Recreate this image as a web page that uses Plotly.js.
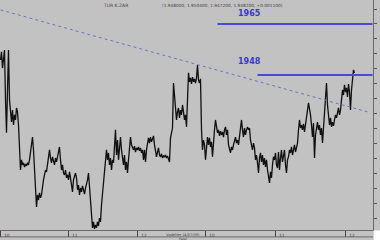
<!DOCTYPE html>
<html>
<head>
<meta charset="utf-8">
<script src="https://cdn.plot.ly/plotly-3.0.1.min.js"></script>
<style>html,body{margin:0;padding:0;background:#c2c2c2;}#chart{width:380px;height:240px;}</style>
</head>
<body>
<div id="chart"></div>
<script>
// daily closes (TUR K.ZAR)
const closes = [
1.9530,1.9557,1.9503,1.9537,1.9563,1.9397,1.9287,1.9430,1.9563,1.9397,
1.9357,1.9323,1.9363,1.9313,1.9347,1.9330,1.9370,1.9357,1.9313,1.9230,
1.9163,1.9197,1.9180,1.9187,1.9173,1.9183,1.9177,1.9187,1.9180,1.9197,
1.9230,1.9263,1.9273,1.9230,1.9163,1.9097,1.9040,1.9080,1.9063,1.9087,
1.9070,1.9080,1.9113,1.9130,1.9147,1.9163,1.9157,1.9180,1.9197,1.9230,
1.9203,1.9187,1.9207,1.9197,1.9180,1.9203,1.9190,1.9207,1.9223,1.9240,
1.9197,1.9163,1.9180,1.9153,1.9147,1.9163,1.9137,1.9147,1.9130,1.9157,
1.9137,1.9113,1.9090,1.9130,1.9147,1.9153,1.9137,1.9097,1.9113,1.9080,
1.9103,1.9090,1.9110,1.9097,1.9083,1.9103,1.9113,1.9130,1.9153,1.9097,
1.9040,1.9003,1.8970,1.8990,1.8967,1.8980,1.8970,1.8990,1.8977,1.9003,
1.8990,1.9047,1.9080,1.9120,1.9147,1.9180,1.9230,1.9197,1.9220,1.9180,
1.9203,1.9163,1.9197,1.9187,1.9230,1.9297,1.9213,1.9263,1.9197,1.9237,
1.9273,1.9230,1.9203,1.9180,1.9213,1.9163,1.9190,1.9153,1.9197,1.9230,
1.9273,1.9247,1.9240,1.9230,1.9243,1.9223,1.9237,1.9230,1.9240,1.9227,
1.9237,1.9220,1.9230,1.9197,1.9230,1.9190,1.9230,1.9247,1.9270,1.9253,
1.9273,1.9257,1.9270,1.9277,1.9247,1.9230,1.9207,1.9223,1.9237,1.9213,
1.9207,1.9217,1.9203,1.9210,1.9207,1.9213,1.9203,1.9210,1.9197,1.9190,
1.9270,1.9290,1.9303,1.9453,1.9413,1.9363,1.9330,1.9357,1.9370,1.9337,
1.9363,1.9347,1.9380,1.9357,1.9330,1.9347,1.9307,1.9397,1.9487,1.9457,
1.9470,1.9450,1.9473,1.9457,1.9467,1.9453,1.9470,1.9513,1.9463,1.9453,
1.9467,1.9297,1.9230,1.9263,1.9247,1.9197,1.9257,1.9273,1.9247,1.9270,
1.9240,1.9257,1.9207,1.9263,1.9297,1.9330,1.9303,1.9287,1.9297,1.9277,
1.9293,1.9280,1.9290,1.9273,1.9297,1.9307,1.9280,1.9297,1.9247,1.9230,
1.9220,1.9240,1.9230,1.9247,1.9263,1.9273,1.9253,1.9263,1.9247,1.9270,
1.9307,1.9330,1.9297,1.9273,1.9303,1.9280,1.9297,1.9307,1.9297,1.9303,
1.9263,1.9247,1.9230,1.9253,1.9237,1.9197,1.9213,1.9187,1.9153,1.9203,
1.9220,1.9190,1.9213,1.9180,1.9203,1.9173,1.9197,1.9163,1.9147,1.9120,
1.9157,1.9137,1.9180,1.9207,1.9197,1.9220,1.9180,1.9170,1.9223,1.9163,
1.9203,1.9230,1.9190,1.9213,1.9230,1.9180,1.9153,1.9197,1.9207,1.9230,
1.9220,1.9240,1.9213,1.9230,1.9247,1.9223,1.9237,1.9253,1.9297,1.9330,
1.9303,1.9313,1.9297,1.9317,1.9290,1.9310,1.9330,1.9363,1.9387,1.9370,
1.9347,1.9313,1.9273,1.9320,1.9203,1.9280,1.9297,1.9323,1.9297,1.9313,
1.9280,1.9303,1.9253,1.9313,1.9363,1.9397,1.9453,1.9380,1.9330,1.9313,
1.9337,1.9307,1.9323,1.9310,1.9330,1.9347,1.9337,1.9357,1.9370,1.9347,
1.9363,1.9397,1.9430,1.9413,1.9447,1.9423,1.9437,1.9407,1.9450,1.9423,
1.9363,1.9430,1.9463,1.9497,1.9487
];
const days = closes.map((_, i) => i);

// descending trend line (start/end days and prices)
const trendDays = [0, 367];
const trendPrices = [1.9697, 1.9357];

// resistance levels
const levelNames = ["1965", "1948"];
const levelPrices = [1.965, 1.948];
const levelStartDays = [217, 257];
const levelEndDay = 372;

// bottom axis labels
const tickDays = [0, 68, 137, 205, 275, 345];
const tickLabels = ["10", "11", "12", "10", "11", "12"];

const headerName = "TUR K.ZAR";
const headerOHLC = "(1.948000, 1.950400, 1.947200, 1.948200, +0.001100)";

const traces = [
  {x: days, y: closes, type: "scatter", mode: "lines",
   line: {color: "#111111", width: 1.3}, hoverinfo: "skip"},
  {x: trendDays, y: trendPrices, type: "scatter", mode: "lines",
   line: {color: "#7474c4", width: 1, dash: "dot"}, hoverinfo: "skip"}
];
levelPrices.forEach((p, i) => {
  traces.push({x: [levelStartDays[i], levelEndDay], y: [p, p], type: "scatter", mode: "lines",
    line: {color: "#4a4ad6", width: 2}, hoverinfo: "skip"});
});

const annotations = [
  {xref: "paper", yref: "paper", x: 0.27, y: 1, xanchor: "left", yanchor: "top", yshift: -1,
   text: headerName, showarrow: false, font: {size: 4.5, color: "#444", family: "DejaVu Sans"}},
  {xref: "paper", yref: "paper", x: 0.43, y: 1, xanchor: "left", yanchor: "top", yshift: -1,
   text: headerOHLC, showarrow: false, font: {size: 4.3, color: "#444", family: "DejaVu Sans"}},
  {xref: "x", yref: "paper", x: 163, y: 0, xanchor: "left", yanchor: "top", yshift: -0.5,
   text: "Vadeliler (4/07/09)", showarrow: false, font: {size: 3.6, color: "#444", family: "DejaVu Sans"}},
  {xref: "x", yref: "paper", x: 176, y: 0, xanchor: "left", yanchor: "top", yshift: -4.5,
   text: "Pazar", showarrow: false, font: {size: 3, color: "#444", family: "DejaVu Sans"}}
];
levelNames.forEach((n, i) => {
  annotations.push({xref: "x", yref: "y", x: 249, y: levelPrices[i], yshift: i === 0 ? 10 : 13,
    text: "<b>" + n + "</b>", showarrow: false, font: {size: 8, color: "#3a3ac8", family: "DejaVu Sans"}});
});
tickDays.forEach((d, i) => {
  annotations.push({xref: "x", yref: "paper", x: d, y: 0, xanchor: "left", yanchor: "top", xshift: 1, yshift: -1,
    text: tickLabels[i], showarrow: false, font: {size: 4.5, color: "#444", family: "DejaVu Sans"}});
});

const layout = {
  width: 380, height: 240,
  margin: {l: 0, r: 7, t: 0, b: 10, pad: 0},
  paper_bgcolor: "#c2c2c2", plot_bgcolor: "#c2c2c2",
  showlegend: false,
  xaxis: {range: [-0.5, 372.5], showgrid: false, zeroline: false, showticklabels: false,
    showline: true, linecolor: "#6a6a6a", linewidth: 1, mirror: false,
    ticks: "outside", ticklen: 6, tickcolor: "#444", tickvals: tickDays, fixedrange: true},
  yaxis: {range: [1.8963, 1.9730], side: "right", showgrid: false, zeroline: false,
    showticklabels: false, showline: true, linecolor: "#6a6a6a", linewidth: 1,
    ticks: "outside", ticklen: 3, tickcolor: "#555", dtick: 0.005, tick0: 1.895, fixedrange: true},
  annotations: annotations,
  shapes: [
    {type: "line", xref: "paper", yref: "paper", x0: 0, x1: 1, y0: -0.03, y1: -0.03,
     line: {color: "#6a6a6a", width: 1}},
    {type: "rect", xref: "paper", yref: "paper", x0: 1.002, x1: 1.03, y0: -0.05, y1: -0.002,
     fillcolor: "#ffffff", line: {width: 0}}
  ]
};

Plotly.newPlot("chart", traces, layout, {staticPlot: true, displayModeBar: false});
</script>
</body>
</html>
